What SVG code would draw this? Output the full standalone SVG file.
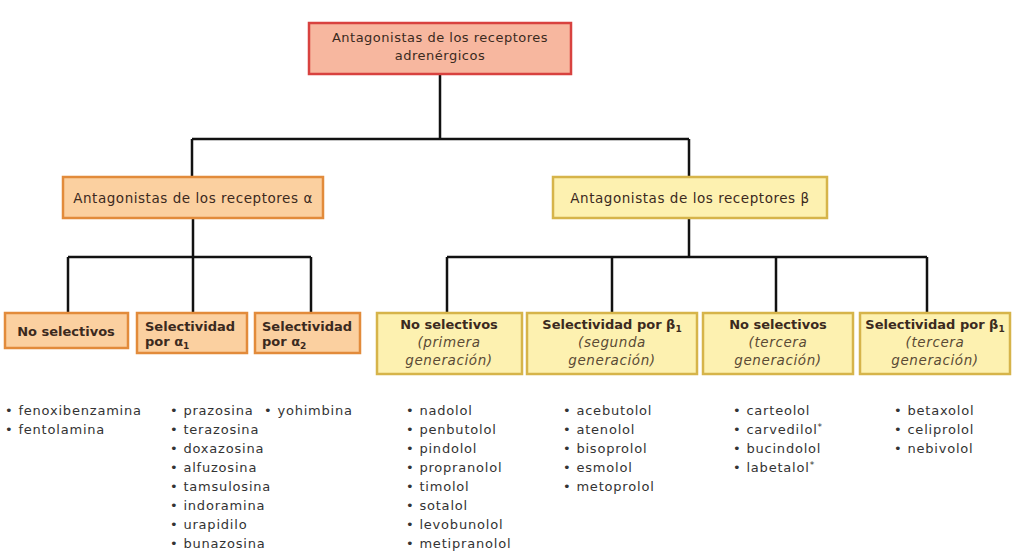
<svg xmlns="http://www.w3.org/2000/svg" width="1012" height="556" viewBox="0 0 1012 556">
<style>
.top{fill:#f7b79f;stroke:#d8423f;stroke-width:2.5}
.org{fill:#fbd0a0;stroke:#e28b3b;stroke-width:2.5}
.yel{fill:#fdf1b0;stroke:#d6b44a;stroke-width:2.5}
.t{font-family:"DejaVu Sans",sans-serif;fill:#3b2a1e}
.h1{font-size:13px;letter-spacing:0.5px}
.h2{font-size:13.5px;letter-spacing:0.55px}
.b{font-size:13px;font-weight:bold}
.i{font-size:13.5px;font-style:italic;letter-spacing:0.6px;fill:#5a4a35}
.l{font-family:"DejaVu Sans",sans-serif;font-size:13px;letter-spacing:0.8px;fill:#333}
.c{fill:none;stroke:#111;stroke-width:2.5}
</style>
<rect width="1012" height="556" fill="#fff"/>
<g id="connectors" class="c">
<path d="M440 74V139M192 139H689M192 139V177M689 139V177"/>
<path d="M193 218V257M68 257H311M68 257V313M193 257V313M311 257V313"/>
<path d="M689 218V257M447 257H927M447 257V313M612 257V313M776 257V313M927 257V313"/>
</g>
<g id="root">
<rect class="top" x="309" y="23" width="262" height="51"/>
<text class="t h1" x="440" y="42" text-anchor="middle">Antagonistas de los receptores</text>
<text class="t h1" x="440" y="60" text-anchor="middle">adrenérgicos</text>
</g>
<g id="alpha">
<rect class="org" x="63" y="177" width="260" height="41"/>
<text class="t h2" x="193" y="203" text-anchor="middle">Antagonistas de los receptores α</text>
</g>
<g id="beta">
<rect class="yel" x="553" y="177" width="274" height="41"/>
<text class="t h2" x="690" y="203" text-anchor="middle">Antagonistas de los receptores  β</text>
</g>
<g id="a-nosel">
<rect class="org" x="5" y="313" width="123" height="35"/>
<text class="t b" x="66" y="336" text-anchor="middle">No selectivos</text>
</g>
<g id="a-sel1">
<rect class="org" x="137" y="313" width="110" height="40"/>
<text class="t b" x="145" y="331">Selectividad</text>
<text class="t b" x="145" y="346">por α<tspan font-size="9" dy="3">1</tspan></text>
</g>
<g id="a-sel2">
<rect class="org" x="255" y="313" width="105" height="40"/>
<text class="t b" x="262" y="331">Selectividad</text>
<text class="t b" x="262" y="346">por α<tspan font-size="9" dy="3">2</tspan></text>
</g>
<g id="b-nosel1">
<rect class="yel" x="377" y="313" width="145" height="61"/>
<text class="t b" x="449" y="329" text-anchor="middle">No selectivos</text>
<text class="t i" x="449" y="347" text-anchor="middle">(primera</text>
<text class="t i" x="449" y="365" text-anchor="middle">generación)</text>
</g>
<g id="b-sel2">
<rect class="yel" x="527" y="313" width="170" height="61"/>
<text class="t b" x="612" y="329" text-anchor="middle">Selectividad por β<tspan font-size="9" dy="3">1</tspan></text>
<text class="t i" x="612" y="347" text-anchor="middle">(segunda</text>
<text class="t i" x="612" y="365" text-anchor="middle">generación)</text>
</g>
<g id="b-nosel3">
<rect class="yel" x="703" y="313" width="150" height="61"/>
<text class="t b" x="778" y="329" text-anchor="middle">No selectivos</text>
<text class="t i" x="778" y="347" text-anchor="middle">(tercera</text>
<text class="t i" x="778" y="365" text-anchor="middle">generación)</text>
</g>
<g id="b-sel3">
<rect class="yel" x="860" y="313" width="150" height="61"/>
<text class="t b" x="935" y="329" text-anchor="middle">Selectividad por β<tspan font-size="9" dy="3">1</tspan></text>
<text class="t i" x="935" y="347" text-anchor="middle">(tercera</text>
<text class="t i" x="935" y="365" text-anchor="middle">generación)</text>
</g>
<g id="list-a-nosel" class="l">
<text x="5" y="415">• fenoxibenzamina</text>
<text x="5" y="434">• fentolamina</text>
</g>
<g id="list-a-sel1" class="l">
<text x="170" y="415">• prazosina</text>
<text x="170" y="434">• terazosina</text>
<text x="170" y="453">• doxazosina</text>
<text x="170" y="472">• alfuzosina</text>
<text x="170" y="491">• tamsulosina</text>
<text x="170" y="510">• indoramina</text>
<text x="170" y="529">• urapidilo</text>
<text x="170" y="548">• bunazosina</text>
</g>
<g id="list-a-sel2" class="l">
<text x="264" y="415">• yohimbina</text>
</g>
<g id="list-b-nosel1" class="l">
<text x="406" y="415">• nadolol</text>
<text x="406" y="434">• penbutolol</text>
<text x="406" y="453">• pindolol</text>
<text x="406" y="472">• propranolol</text>
<text x="406" y="491">• timolol</text>
<text x="406" y="510">• sotalol</text>
<text x="406" y="529">• levobunolol</text>
<text x="406" y="548">• metipranolol</text>
</g>
<g id="list-b-sel2" class="l">
<text x="563" y="415">• acebutolol</text>
<text x="563" y="434">• atenolol</text>
<text x="563" y="453">• bisoprolol</text>
<text x="563" y="472">• esmolol</text>
<text x="563" y="491">• metoprolol</text>
</g>
<g id="list-b-nosel3" class="l">
<text x="733" y="415">• carteolol</text>
<text x="733" y="434">• carvedilol<tspan font-size="9" dy="-4">*</tspan></text>
<text x="733" y="453">• bucindolol</text>
<text x="733" y="472">• labetalol<tspan font-size="9" dy="-4">*</tspan></text>
</g>
<g id="list-b-sel3" class="l">
<text x="894" y="415">• betaxolol</text>
<text x="894" y="434">• celiprolol</text>
<text x="894" y="453">• nebivolol</text>
</g>
</svg>
